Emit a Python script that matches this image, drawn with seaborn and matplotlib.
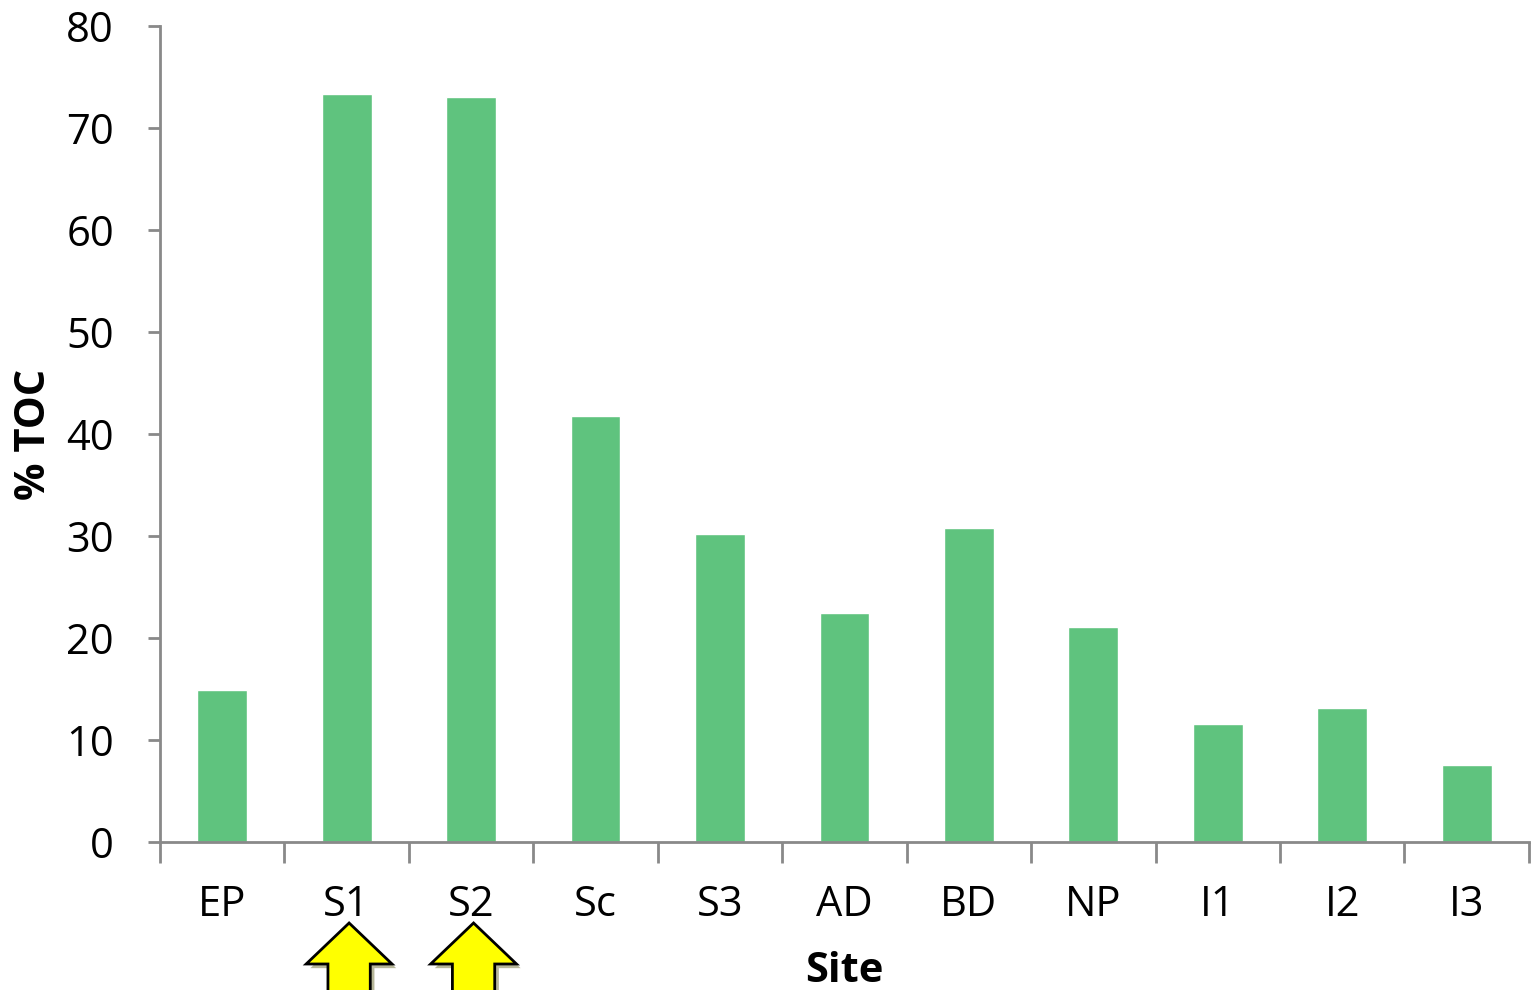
import numpy as np
import pandas as pd
import seaborn as sns
import matplotlib
matplotlib.use("Agg")
import matplotlib.pyplot as plt
from matplotlib.patches import Polygon
from matplotlib.transforms import blended_transform_factory
import matplotlib.patheffects as pe

sites = ["EP", "S1", "S2", "Sc", "S3", "AD", "BD", "NP", "I1", "I2", "I3"]
toc = [14.9, 73.3, 73.0, 41.8, 30.2, 22.5, 30.8, 21.1, 11.6, 13.1, 7.5]
y_ticks = [0, 10, 20, 30, 40, 50, 60, 70, 80]
highlighted = ["S1", "S2"]

sns.set_style("white")
plt.rcParams["font.family"] = ["Open Sans", "DejaVu Sans"]
plt.rcParams["text.color"] = "black"
plt.rcParams["xtick.color"] = "black"
plt.rcParams["ytick.color"] = "black"
plt.rcParams["axes.labelcolor"] = "black"

df = pd.DataFrame({"Site": sites, "TOC": toc})

fig = plt.figure(figsize=(15.32, 9.9), dpi=100)
ax = fig.add_axes([0.1044, 0.1495, 0.8936, 0.8242])

sns.barplot(data=df, x="Site", y="TOC", color="#5FC37E", saturation=1,
            width=0.4, ax=ax, order=sites)

axis_grey = "#898989"
fs = 30
ax.set_ylim(0, 80)
ax.set_xlim(-0.5, len(sites) - 0.5)
ax.set_yticks(y_ticks)
ax.set_yticklabels([str(v) for v in y_ticks], fontsize=fs)

# category boundaries carry the tick marks, labels sit at category centres
ax.set_xticks(np.arange(-0.5, len(sites)), minor=False)
ax.set_xticklabels([])
ax.set_xticks(np.arange(len(sites)), minor=True)
ax.set_xticklabels(sites, minor=True, fontsize=fs)
ax.tick_params(axis="x", which="major", bottom=True, length=15, width=2,
               color=axis_grey, direction="out")
ax.tick_params(axis="x", which="minor", bottom=True, length=0, pad=30)
ax.tick_params(axis="y", left=True, length=9, width=2, color=axis_grey,
               labelcolor="black", direction="out", pad=24)

for side in ["top", "right"]:
    ax.spines[side].set_visible(False)
for side in ["left", "bottom"]:
    ax.spines[side].set_color(axis_grey)
    ax.spines[side].set_linewidth(2)

ax.set_xlabel("Site", fontsize=fs, fontweight="bold", labelpad=18)
ax.set_ylabel("% TOC", fontsize=fs, fontweight="bold", labelpad=8)

# yellow up arrows under the highlighted sites
trans = blended_transform_factory(ax.transData, fig.transFigure)
for name in highlighted:
    xc = sites.index(name) + 0.02
    head_half = 0.345
    shaft_half = 0.17
    tip_y = 1 - 923 / 990
    base_y = 1 - 964 / 990
    bottom_y = -0.05
    pts = [
        (xc, tip_y),
        (xc + head_half, base_y),
        (xc + shaft_half, base_y),
        (xc + shaft_half, bottom_y),
        (xc - shaft_half, bottom_y),
        (xc - shaft_half, base_y),
        (xc - head_half, base_y),
    ]
    arrow = Polygon(pts, closed=True, transform=trans, facecolor="#FFFF00",
                    edgecolor="black", linewidth=2, clip_on=False, zorder=5,
                    path_effects=[pe.SimplePatchShadow(offset=(3, -3), alpha=0.4),
                                  pe.Normal()])
    fig.patches.append(arrow)

fig.savefig("out.png", dpi=100)
